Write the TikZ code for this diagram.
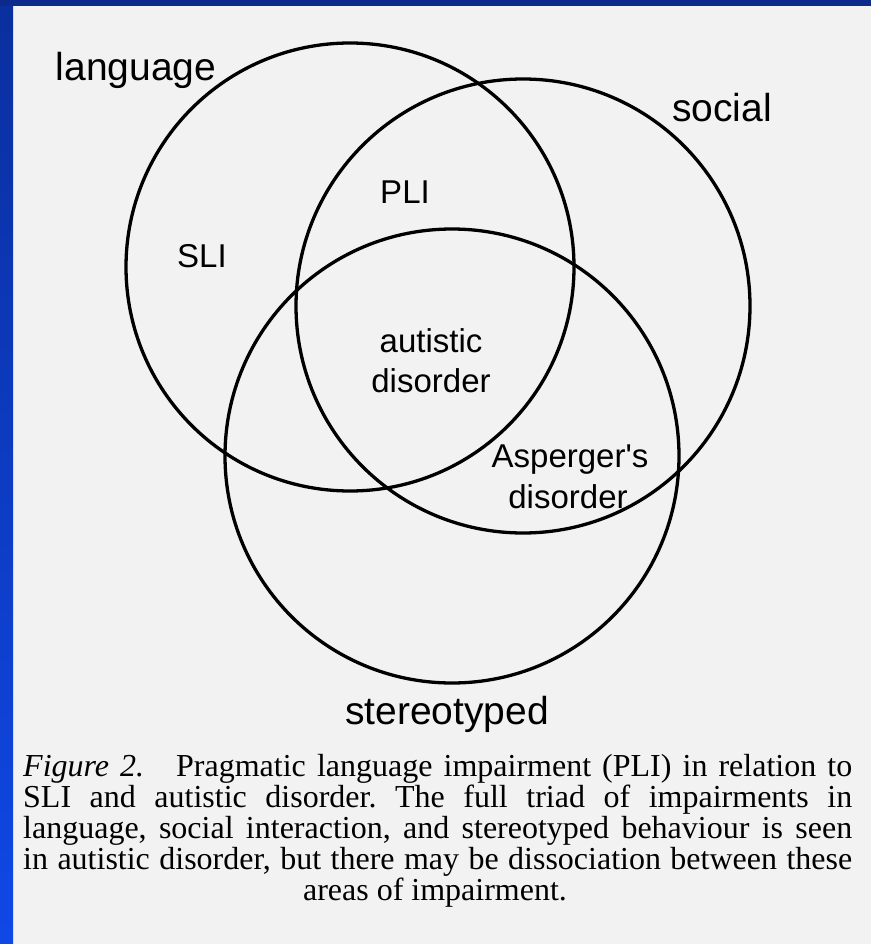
\documentclass[tikz,border=0pt]{standalone}
\usepackage{fontspec}
\setmainfont{Liberation Serif}
\newfontfamily\labelfont{Liberation Sans}
\definecolor{panel}{HTML}{F2F2F2}
\definecolor{navy}{HTML}{0B2A8C}
\definecolor{frametop}{HTML}{0A2F9E}
\definecolor{framebot}{HTML}{1048E6}
\frenchspacing
\begin{document}
\begin{tikzpicture}[x=1pt,y=-1pt,
  setcirc/.style={circle, draw=black, line width=3.3pt, inner sep=0pt, outer sep=0pt},
  biglabel/.style={font=\labelfont\fontsize{39}{46}\selectfont, inner sep=0pt, anchor=base},
  inlabel/.style={font=\labelfont\fontsize{33}{39}\selectfont, inner sep=0pt, anchor=base},
  capline/.style={font=\fontsize{32}{31}\selectfont, inner sep=0pt, anchor=base west},
  caplast/.style={font=\fontsize{32}{31}\selectfont, inner sep=0pt, anchor=base}]
\useasboundingbox (0,0) rectangle (871,944);
\fill[panel] (0,0) rectangle (871,944);
\shade[top color=frametop, bottom color=framebot] (0,0) rectangle (13,944);
\fill[navy] (0,0) rectangle (871,6);

% circles
\node[setcirc, minimum size=448pt] (lang) at (350,267) {};
\node[setcirc, minimum size=454pt] (soc) at (523,306) {};
\node[setcirc, minimum size=454pt] (ster) at (452,456) {};

% circle labels
\node[biglabel] (tlang) at (136,81) {language};
\node[biglabel] (tsoc) at (722,122) {social};
\node[biglabel] (tster) at (447,724) {stereotyped};

% region labels
\node[inlabel] (tsli) at (202,267) {SLI};
\node[inlabel] (tpli) at (405,203) {PLI};
\node[inlabel] (taut1) at (431,352) {autistic};
\node[inlabel] (taut2) at (431,392) {disorder};
\node[inlabel] (tasp1) at (570,467) {Asperger's};
\node[inlabel] (tasp2) at (568,508) {disorder};

% caption
\node[capline] (c1) at (23,776) {\makebox[829pt][s]{\textit{Figure 2.}\quad Pragmatic language impairment (PLI) in relation to}};
\node[capline] (c2) at (23,807) {\makebox[829pt][s]{SLI and autistic disorder. The full triad of impairments in}};
\node[capline] (c3) at (23,838) {\makebox[829pt][s]{language, social interaction, and stereotyped behaviour is seen}};
\node[capline] (c4) at (23,869) {\makebox[829pt][s]{in autistic disorder, but there may be dissociation between these}};
\node[caplast] (c5) at (435,900) {areas of impairment.};
\end{tikzpicture}
\end{document}
